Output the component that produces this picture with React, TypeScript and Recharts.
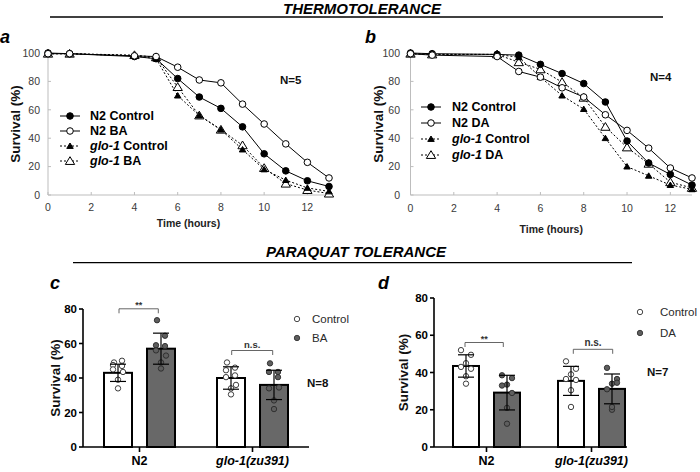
import React from 'react';
import { LineChart, Line, XAxis, YAxis, Legend, BarChart, Bar, ErrorBar, Label } from 'recharts';

const FONT = '"Liberation Sans", Arial, Helvetica, sans-serif';

// ---------- Thermotolerance (panels a, b) ----------
const HOURS = [0, 1, 4, 5, 6, 7, 8, 9, 10, 11, 12, 13];
const TIME_TICKS = [0, 2, 4, 6, 8, 10, 12];
const SURVIVAL_TICKS_LINE = [0, 20, 40, 60, 80, 100];

const A_N2_CONTROL = [100, 99.5, 97.5, 96, 82, 69, 61, 48, 29, 17, 10, 6];
const A_N2_BA = [99.5, 99.5, 98, 97.5, 90, 81, 79, 64, 50, 36, 23, 12];
const A_GLO1_CONTROL = [99.5, 99.5, 98, 96, 70, 56, 46, 32, 18, 10.5, 5, 2.5];
const A_GLO1_BA = [99.5, 99.5, 98.5, 97, 76, 56, 46, 35, 19, 8, 3.5, 1];

const B_N2_CONTROL = [100, 99.5, 99, 98.5, 92, 85.5, 78.5, 65.5, 38, 22.5, 14.5, 7];
const B_N2_DA = [99.5, 98.5, 97.5, 87, 83, 75.5, 69, 56.5, 45.5, 33, 19, 12];
const B_GLO1_CONTROL = [99.5, 99, 99, 97, 83, 70, 60.5, 40, 20, 13.5, 7, 4];
const B_GLO1_DA = [99.5, 99, 99, 93.5, 88.5, 79.5, 68.5, 48, 33.5, 22, 9, 5];

// ---------- Paraquat tolerance (panels c, d) ----------
const STRAINS = ['N2', 'glo-1(zu391)'];
const SURVIVAL_TICKS_BAR = [0, 20, 40, 60, 80];

const C_CONTROL_MEAN = [43, 40];
const C_CONTROL_SD = [5, 6.5];
const C_BA_MEAN = [57, 36];
const C_BA_SD = [9, 8.5];
const C_CONTROL_POINTS = [
  [49, 50, 47.5, 47, 45, 43.5, 39, 34],
  [49, 46, 44.5, 41.5, 40.5, 36, 34, 30.5],
];
const C_BA_POINTS = [
  [73.5, 64.5, 59, 58.5, 56, 53, 49, 45.5],
  [48.5, 43.5, 43.5, 40.5, 34, 34.5, 27, 22],
];

const D_CONTROL_MEAN = [43.5, 35.5];
const D_CONTROL_SD = [6, 7.8];
const D_DA_MEAN = [29.2, 31.2];
const D_DA_SD = [9.3, 8];
const D_CONTROL_POINTS = [
  [52, 49.5, 45, 43, 42, 38, 34],
  [46, 42, 39, 36.5, 36, 30.5, 21.5],
];
const D_DA_POINTS = [
  [38.5, 37, 33.5, 33, 29, 21, 12.5],
  [42.5, 36.5, 34, 31, 34.5, 20, 21.5],
];

// horizontal scatter of replicate dots (style only)
const JITTER_8 = [-4, 4, -5, 4, -5, 5, 0, 0];
const JITTER_7 = [-5, 5, 0, -5, 5, 0, 0];

// ---------- tables built for recharts ----------
const dataA = HOURS.map((t, i) => ({
  t,
  n2c: A_N2_CONTROL[i],
  n2t: A_N2_BA[i],
  gc: A_GLO1_CONTROL[i],
  gt: A_GLO1_BA[i],
}));
const dataB = HOURS.map((t, i) => ({
  t,
  n2c: B_N2_CONTROL[i],
  n2t: B_N2_DA[i],
  gc: B_GLO1_CONTROL[i],
  gt: B_GLO1_DA[i],
}));
const dataC = STRAINS.map((g, i) => ({
  group: g,
  ctrl: C_CONTROL_MEAN[i],
  ctrlSd: C_CONTROL_SD[i],
  ctrlPts: C_CONTROL_POINTS[i],
  trt: C_BA_MEAN[i],
  trtSd: C_BA_SD[i],
  trtPts: C_BA_POINTS[i],
}));
const dataD = STRAINS.map((g, i) => ({
  group: g,
  ctrl: D_CONTROL_MEAN[i],
  ctrlSd: D_CONTROL_SD[i],
  ctrlPts: D_CONTROL_POINTS[i],
  trt: D_DA_MEAN[i],
  trtSd: D_DA_SD[i],
  trtPts: D_DA_POINTS[i],
}));

type Kind = 'circleFilled' | 'circleOpen' | 'triFilled' | 'triOpen';

function Marker({ kind, cx, cy }: { kind: Kind; cx: number; cy: number }) {
  if (cx == null || cy == null || isNaN(cx) || isNaN(cy)) return <g />;
  if (kind === 'circleFilled')
    return <circle cx={cx} cy={cy} r={3.3} fill="#000" stroke="#000" strokeWidth={1} />;
  if (kind === 'circleOpen')
    return <circle cx={cx} cy={cy} r={3.3} fill="#fff" stroke="#000" strokeWidth={1} />;
  const s = kind === 'triFilled' ? 3 : 4.3;
  const pts = `${cx},${cy - s} ${cx + s * 1.08},${cy + s * 0.8} ${cx - s * 1.08},${cy + s * 0.8}`;
  return (
    <polygon
      points={pts}
      fill={kind === 'triFilled' ? '#000' : '#fff'}
      stroke="#000"
      strokeWidth={1}
      strokeLinejoin="round"
    />
  );
}

const dotOf = (kind: Kind) => (p: any) => (
  <Marker key={`m-${kind}-${p.index}`} kind={kind} cx={p.cx} cy={p.cy} />
);

type SeriesDef = { key: string; strain: string; treat: string; kind: Kind; dashed: boolean };

const seriesFor = (treat: string): SeriesDef[] => [
  { key: 'n2c', strain: 'N2', treat: 'Control', kind: 'circleFilled', dashed: false },
  { key: 'n2t', strain: 'N2', treat, kind: 'circleOpen', dashed: false },
  { key: 'gc', strain: 'glo-1', treat: 'Control', kind: 'triFilled', dashed: true },
  { key: 'gt', strain: 'glo-1', treat, kind: 'triOpen', dashed: true },
];

function LineLegend({ series, rowH, gap }: { series: SeriesDef[]; rowH: number; gap: number }) {
  return (
    <div style={{ fontFamily: FONT, fontWeight: 'bold', fontSize: 12.5, color: '#000' }}>
      {series.map((s) => (
        <div key={s.key} style={{ display: 'flex', alignItems: 'center', height: rowH, whiteSpace: 'nowrap' }}>
          <svg width={22} height={12} style={{ display: 'block' }}>
            <line
              x1={0}
              x2={20}
              y1={6}
              y2={6}
              stroke="#000"
              strokeWidth={1}
              strokeDasharray={s.dashed ? '2 2' : undefined}
            />
            <Marker kind={s.kind} cx={10} cy={6} />
          </svg>
          <span style={{ marginLeft: gap }}>
            {s.strain === 'N2' ? 'N2' : <i>glo-1</i>} {s.treat}
          </span>
        </div>
      ))}
    </div>
  );
}

const xTitle = (text: string, dy: number) => (props: any) => {
  const vb = props.viewBox || {};
  return (
    <text
      x={vb.x + vb.width / 2}
      y={vb.y + dy}
      textAnchor="middle"
      dominantBaseline="central"
      fontFamily={FONT}
      fontWeight="bold"
      fontSize={10.5}
      fill="#222"
    >
      {text}
    </text>
  );
};

const yTitle = (text: string, x: number, size: number) => (props: any) => {
  const vb = props.viewBox || {};
  const cy = vb.y + vb.height / 2;
  return (
    <text
      x={x}
      y={cy}
      transform={`rotate(-90, ${x}, ${cy})`}
      textAnchor="middle"
      dominantBaseline="central"
      fontFamily={FONT}
      fontWeight="bold"
      fontSize={size}
      fill="#111"
    >
      {text}
    </text>
  );
};

function SurvivalLines({
  data,
  series,
  yAxisWidth,
  marginRight,
  tickMarginY,
  tickMarginX,
  xTitleDy,
  yTitleX,
  legendLeft,
  legendTop,
  legendRowH,
  legendGap,
}: any) {
  const drawOrder = [series[3], series[2], series[0], series[1]];
  const H = 244;
  return (
    <LineChart
      width={350}
      height={H}
      data={data}
      margin={{ top: 53, right: marginRight, bottom: 0, left: 0 }}
    >
      <XAxis
        dataKey="t"
        type="number"
        domain={[0, 13]}
        ticks={TIME_TICKS}
        interval={0}
        height={H - 53 - 142}
        axisLine={{ stroke: '#bdbdbd', strokeWidth: 1 }}
        tickLine={{ stroke: '#bdbdbd' }}
        tickSize={-3}
        tickMargin={tickMarginX}
        tick={{ fill: '#3a3a3a', fontSize: 10.5, fontFamily: FONT }}
      >
        <Label content={xTitle('Time (hours)', xTitleDy)} />
      </XAxis>
      <YAxis
        type="number"
        domain={[0, 100]}
        ticks={SURVIVAL_TICKS_LINE}
        interval={0}
        width={yAxisWidth}
        axisLine={{ stroke: '#bdbdbd', strokeWidth: 1 }}
        tickLine={{ stroke: '#bdbdbd' }}
        tickSize={-3}
        tickMargin={tickMarginY}
        tick={{ fill: '#3a3a3a', fontSize: 10.5, fontFamily: FONT }}
      >
        <Label content={yTitle('Survival (%)', yTitleX, 13.5)} />
      </YAxis>
      <Legend
        layout="horizontal"
        verticalAlign="middle"
        align="center"
        wrapperStyle={{ left: legendLeft, top: legendTop, width: 'auto', height: 'auto' }}
        content={() => <LineLegend series={series} rowH={legendRowH} gap={legendGap} />}
      />
      {drawOrder.map((s: SeriesDef) => (
        <Line
          key={s.key}
          type="linear"
          dataKey={s.key}
          name={`${s.strain} ${s.treat}`}
          stroke="#000"
          strokeWidth={1}
          strokeDasharray={s.dashed ? '2 2' : undefined}
          dot={dotOf(s.kind)}
          activeDot={false}
          isAnimationActive={false}
        />
      ))}
    </LineChart>
  );
}

const CONTROL_FILL = '#ffffff';
const TREAT_FILL = '#686868';
const DOT_TREAT_FILL = '#5e5e5e';

const barShape = (valKey: string, ptsKey: string, dotFill: string, jitter: number[]) => (props: any) => {
  const { x, y, width, height, payload, fill, index } = props;
  const mean = payload[valKey];
  const pxPerUnit = mean ? height / mean : 0;
  const base = y + height;
  const pts: number[] = payload[ptsKey] || [];
  return (
    <g key={`bar-${valKey}-${index}`}>
      <rect x={x} y={y} width={width} height={height} fill={fill} stroke="#000" strokeWidth={2} />
      {pts.map((p, j) => (
        <circle
          key={j}
          cx={x + width / 2 + jitter[j % jitter.length]}
          cy={base - p * pxPerUnit}
          r={2.7}
          fill={dotFill}
          stroke="#2a2a2a"
          strokeWidth={0.9}
        />
      ))}
    </g>
  );
};

function CatTick(props: any) {
  const { x, y, payload } = props;
  const italic = payload.value !== 'N2';
  return (
    <text
      x={x}
      y={y}
      dy="0.71em"
      textAnchor="middle"
      fontFamily={FONT}
      fontWeight="bold"
      fontStyle={italic ? 'italic' : 'normal'}
      fontSize={12.5}
      fill="#000"
    >
      {payload.value}
    </text>
  );
}

function DotLegend({ treat, rowH, gap }: { treat: string; rowH: number; gap: number }) {
  const items = [
    { name: 'Control', fill: '#fff' },
    { name: treat, fill: DOT_TREAT_FILL },
  ];
  return (
    <div style={{ fontFamily: FONT, fontSize: 11.5, color: '#2a2a2a' }}>
      {items.map((it) => (
        <div key={it.name} style={{ display: 'flex', alignItems: 'center', height: rowH }}>
          <svg width={10} height={10} style={{ display: 'block' }}>
            <circle cx={5} cy={5} r={2.7} fill={it.fill} stroke="#333" strokeWidth={0.9} />
          </svg>
          <span style={{ marginLeft: gap }}>{it.name}</span>
        </div>
      ))}
    </div>
  );
}

function SurvivalBars({
  data,
  treat,
  marginTop,
  marginRight,
  yAxisWidth,
  yTitleX,
  barSize,
  jitter,
  padding,
  legendLeft,
  legendTop,
  legendRowH,
  legendGap,
}: any) {
  return (
    <BarChart
      width={350}
      height={192}
      data={data}
      margin={{ top: marginTop, right: marginRight, bottom: 0, left: 0 }}
      barGap={15}
    >
      <XAxis
        dataKey="group"
        type="category"
        interval={0}
        height={192 - 167}
        padding={padding}
        axisLine={{ stroke: '#000', strokeWidth: 1.6 }}
        tickLine={{ stroke: '#000', strokeWidth: 1.6 }}
        tickSize={5}
        tickMargin={4}
        tick={<CatTick />}
      />
      <YAxis
        type="number"
        domain={[0, 80]}
        ticks={SURVIVAL_TICKS_BAR}
        interval={0}
        width={yAxisWidth}
        axisLine={{ stroke: '#000', strokeWidth: 1.6 }}
        tickLine={{ stroke: '#000', strokeWidth: 1.6 }}
        tickSize={4}
        tickMargin={2}
        tick={{ fill: '#000', fontSize: 11.5, fontWeight: 'bold', fontFamily: FONT }}
      >
        <Label content={yTitle('Survival (%)', yTitleX, 13.5)} />
      </YAxis>
      <Legend
        layout="horizontal"
        verticalAlign="middle"
        align="center"
        wrapperStyle={{ left: legendLeft, top: legendTop, width: 'auto', height: 'auto' }}
        content={() => <DotLegend treat={treat} rowH={legendRowH} gap={legendGap} />}
      />
      <Bar
        dataKey="ctrl"
        name="Control"
        fill={CONTROL_FILL}
        barSize={barSize}
        shape={barShape('ctrl', 'ctrlPts', '#fff', jitter)}
        isAnimationActive={false}
      >
        <ErrorBar dataKey="ctrlSd" width={8} stroke="#000" strokeWidth={1.2} direction="y" />
      </Bar>
      <Bar
        dataKey="trt"
        name={treat}
        fill={TREAT_FILL}
        barSize={barSize}
        shape={barShape('trt', 'trtPts', DOT_TREAT_FILL, jitter)}
        isAnimationActive={false}
      >
        <ErrorBar dataKey="trtSd" width={8} stroke="#000" strokeWidth={1.2} direction="y" />
      </Bar>
    </BarChart>
  );
}

function Bracket({ x1, x2, y, label, ty, size }: any) {
  return (
    <g>
      <path d={`M${x1} ${y + 4.5} V${y} H${x2} V${y + 4.5}`} fill="none" stroke="#555" strokeWidth={0.9} />
      <text
        x={(x1 + x2) / 2}
        y={ty}
        textAnchor="middle"
        dominantBaseline="central"
        fontFamily={FONT}
        fontWeight="bold"
        fontSize={size}
        fill="#333"
      >
        {label}
      </text>
    </g>
  );
}

export default function App() {
  const txt = { fontFamily: FONT } as any;
  return (
    <div
      style={{
        position: 'absolute',
        left: 0,
        top: 0,
        width: 700,
        height: 472,
        background: '#fff',
        overflow: 'hidden',
      }}
    >
      <div style={{ position: 'absolute', left: 0, top: 0 }}>
        <SurvivalLines
          data={dataA}
          series={seriesFor('BA')}
          yAxisWidth={48}
          marginRight={21}
          tickMarginY={11}
          tickMarginX={12}
          xTitleDy={28}
          yTitleX={15}
          legendLeft={60}
          legendTop={108}
          legendRowH={15}
          legendGap={8}
        />
      </div>
      <div style={{ position: 'absolute', left: 350, top: 0 }}>
        <SurvivalLines
          data={dataB}
          series={seriesFor('DA')}
          yAxisWidth={60.5}
          marginRight={8}
          tickMarginY={13.5}
          tickMarginX={13}
          xTitleDy={34}
          yTitleX={28}
          legendLeft={71}
          legendTop={99}
          legendRowH={16}
          legendGap={9}
        />
      </div>
      <div style={{ position: 'absolute', left: 0, top: 280 }}>
        <SurvivalBars
          data={dataC}
          treat="BA"
          marginTop={29}
          marginRight={41}
          yAxisWidth={83}
          yTitleX={55}
          barSize={28}
          jitter={JITTER_8}
          padding={{ left: 0, right: 0 }}
          legendLeft={292}
          legendTop={29}
          legendRowH={19}
          legendGap={10}
        />
      </div>
      <div style={{ position: 'absolute', left: 350, top: 280 }}>
        <SurvivalBars
          data={dataD}
          treat="DA"
          marginTop={18}
          marginRight={73}
          yAxisWidth={84}
          yTitleX={53}
          barSize={26}
          jitter={JITTER_7}
          padding={{ left: 0, right: -17 }}
          legendLeft={285}
          legendTop={21}
          legendRowH={21.6}
          legendGap={15}
        />
      </div>

      <svg
        width={700}
        height={472}
        style={{ position: 'absolute', left: 0, top: 0, pointerEvents: 'none' }}
      >
        <text x={362} y={8.5} textAnchor="middle" dominantBaseline="central" {...txt} fontWeight="bold" fontStyle="italic" fontSize={15} fill="#000">
          THERMOTOLERANCE
        </text>
        <line x1={50} x2={663} y1={17} y2={17} stroke="#000" strokeWidth={1.3} />
        <text x={356} y={251.5} textAnchor="middle" dominantBaseline="central" {...txt} fontWeight="bold" fontStyle="italic" fontSize={15} fill="#000">
          PARAQUAT TOLERANCE
        </text>
        <line x1={73} x2={632} y1={262.7} y2={262.7} stroke="#000" strokeWidth={1.3} />

        <text x={0} y={37} dominantBaseline="central" {...txt} fontWeight="bold" fontStyle="italic" fontSize={18} fill="#000">a</text>
        <text x={365} y={37} dominantBaseline="central" {...txt} fontWeight="bold" fontStyle="italic" fontSize={18} fill="#000">b</text>
        <text x={50} y={283} dominantBaseline="central" {...txt} fontWeight="bold" fontStyle="italic" fontSize={18} fill="#000">c</text>
        <text x={378} y={283} dominantBaseline="central" {...txt} fontWeight="bold" fontStyle="italic" fontSize={18} fill="#000">d</text>

        <text x={280} y={80} dominantBaseline="central" {...txt} fontWeight="bold" fontSize={11.5} fill="#111">N=5</text>
        <text x={650} y={77} dominantBaseline="central" {...txt} fontWeight="bold" fontSize={11.5} fill="#111">N=4</text>
        <text x={307} y={383} dominantBaseline="central" {...txt} fontWeight="bold" fontSize={11.5} fill="#111">N=8</text>
        <text x={647} y={372} dominantBaseline="central" {...txt} fontWeight="bold" fontSize={11.5} fill="#111">N=7</text>

        <Bracket x1={119} x2={158.3} y={308.8} label="**" ty={305} size={9} />
        <Bracket x1={231.7} x2={272.7} y={350.5} label="n.s." ty={344.5} size={9.5} />
        <Bracket x1={465} x2={503.3} y={342.5} label="**" ty={338.5} size={9} />
        <Bracket x1={573.3} x2={612.7} y={349.3} label="n.s." ty={342.5} size={10} />
      </svg>
    </div>
  );
}
